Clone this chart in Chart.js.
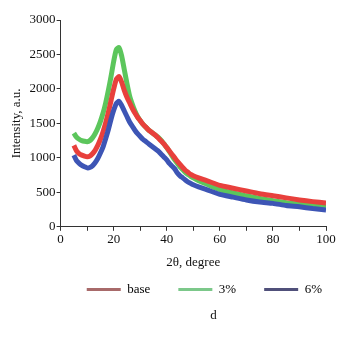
<!DOCTYPE html>
<html>
<head>
<meta charset="utf-8">
<script src="https://cdn.jsdelivr.net/npm/chart.js@4/dist/chart.umd.min.js"></script>
<style>
  html, body { margin: 0; padding: 0; background: #fff; }
  #wrap { width: 350px; height: 337px; }
</style>
</head>
<body>
<div id="wrap"><canvas id="myChart"></canvas></div>
<script>
// 2theta angles and intensities
const angles = [5,6,7,8,9,10,11,12,13,14,15,16,17,18,19,20,21,22,23,24,25,26,27,28,29,30,31,32,33,34,35,36,37,38,39,40,41,42,43,44,45,46,47,48,49,50,52,55,60,65,70,75,80,85,90,95,100];
const baseVals = [1180,1100,1060,1040,1025,1015,1025,1060,1110,1180,1270,1380,1510,1660,1830,2000,2140,2180,2100,1980,1880,1800,1720,1650,1590,1540,1490,1450,1410,1380,1350,1320,1280,1240,1200,1150,1100,1050,1000,950,905,860,820,790,760,740,710,670,600,560,520,480,450,420,390,365,345];
const pct3Vals = [1360,1300,1270,1250,1240,1235,1250,1290,1350,1430,1530,1650,1800,1980,2180,2400,2570,2600,2480,2280,2080,1900,1780,1680,1600,1540,1490,1450,1410,1380,1350,1320,1290,1250,1200,1150,1090,1030,970,920,870,830,790,760,730,710,670,620,540,490,450,410,380,350,330,310,290];
const pct6Vals = [1040,960,920,890,870,855,860,885,930,990,1070,1160,1280,1410,1560,1690,1790,1820,1760,1680,1600,1520,1460,1400,1350,1310,1270,1240,1210,1180,1150,1120,1090,1050,1010,970,920,880,840,780,740,710,680,650,630,610,580,540,470,430,390,360,340,310,290,265,245];
const seriesNames = ['base', '3%', '6%'];
const panelLabel = 'd';

const toPoints = vals => vals.map((v, i) => ({ x: angles[i], y: v }));
const serif = '"Liberation Serif", "Times New Roman", serif';
const legendColors = ['#a86a6a', '#7cc88a', '#50507a'];

Chart.defaults.font.family = serif;
Chart.defaults.font.size = 13;
Chart.defaults.color = '#111';

// panel letter under the legend, a little right of centre like the figure
const panelLabelPlugin = {
    id: 'panelLabel',
    afterDraw(chart) {
        const c = chart.ctx;
        c.save();
        c.font = '13px ' + serif;
        c.fillStyle = '#111';
        c.textAlign = 'center';
        c.textBaseline = 'middle';
        c.fillText(panelLabel, chart.width * 0.61, chart.height - 21);
        c.restore();
    }
};

function draw() {
    const ctx = document.getElementById('myChart').getContext('2d');
    new Chart(ctx, {
        type: 'line',
        data: {
            datasets: [
                { label: seriesNames[0], data: toPoints(baseVals), borderColor: '#e8403c', order: 1 },
                { label: seriesNames[1], data: toPoints(pct3Vals), borderColor: '#5cc65c', order: 2 },
                { label: seriesNames[2], data: toPoints(pct6Vals), borderColor: '#3d55b5', order: 0 }
            ]
        },
        plugins: [panelLabelPlugin],
        options: {
            responsive: true,
            maintainAspectRatio: false,
            animation: false,
            layout: { padding: { left: 9, right: 0, top: 20, bottom: 31 } },
            datasets: {
                line: { borderWidth: 5, tension: 0.2, pointRadius: 0, fill: false }
            },
            plugins: {
                legend: {
                    position: 'bottom',
                    align: 'end',
                    labels: {
                        font: { family: serif, size: 13 },
                        boxWidth: 34,
                        boxHeight: 3,
                        padding: 28,
                        generateLabels: chart => chart.data.datasets.map((ds, i) => ({
                            text: ds.label,
                            fillStyle: legendColors[i],
                            strokeStyle: legendColors[i],
                            lineWidth: 0,
                            datasetIndex: i
                        }))
                    }
                },
                tooltip: { enabled: false }
            },
            scales: {
                x: {
                    type: 'linear',
                    min: 0,
                    max: 100,
                    border: { color: '#333', width: 1 },
                    grid: { drawOnChartArea: false, color: '#333', tickLength: 4 },
                    ticks: {
                        stepSize: 10,
                        font: { family: serif, size: 13 },
                        padding: 1,
                        maxRotation: 0,
                        callback: v => (v % 20 === 0 ? v : '')
                    },
                    title: {
                        display: true,
                        text: '2θ, degree',
                        font: { family: serif, size: 13 },
                        padding: { top: 6, bottom: -15 }
                    }
                },
                y: {
                    min: 0,
                    max: 3000,
                    border: { color: '#333', width: 1 },
                    grid: { drawOnChartArea: false, color: '#333', tickLength: 4 },
                    ticks: {
                        stepSize: 250,
                        font: { family: serif, size: 13 },
                        padding: 1,
                        callback: v => (v % 500 === 0 ? v : '')
                    },
                    title: {
                        display: true,
                        text: 'Intensity, a.u.',
                        font: { family: serif, size: 13 },
                        padding: { top: 0, bottom: 4 }
                    }
                },
                // empty right-hand gutter so the legend can sit flush right
                gutter: {
                    type: 'linear',
                    position: 'right',
                    display: true,
                    grid: { display: false },
                    border: { display: false },
                    ticks: { display: false },
                    afterFit: s => { s.width = 24; }
                }
            }
        }
    });
}

document.fonts.load('13px "Liberation Serif"').then(draw, draw);
</script>
</body>
</html>
